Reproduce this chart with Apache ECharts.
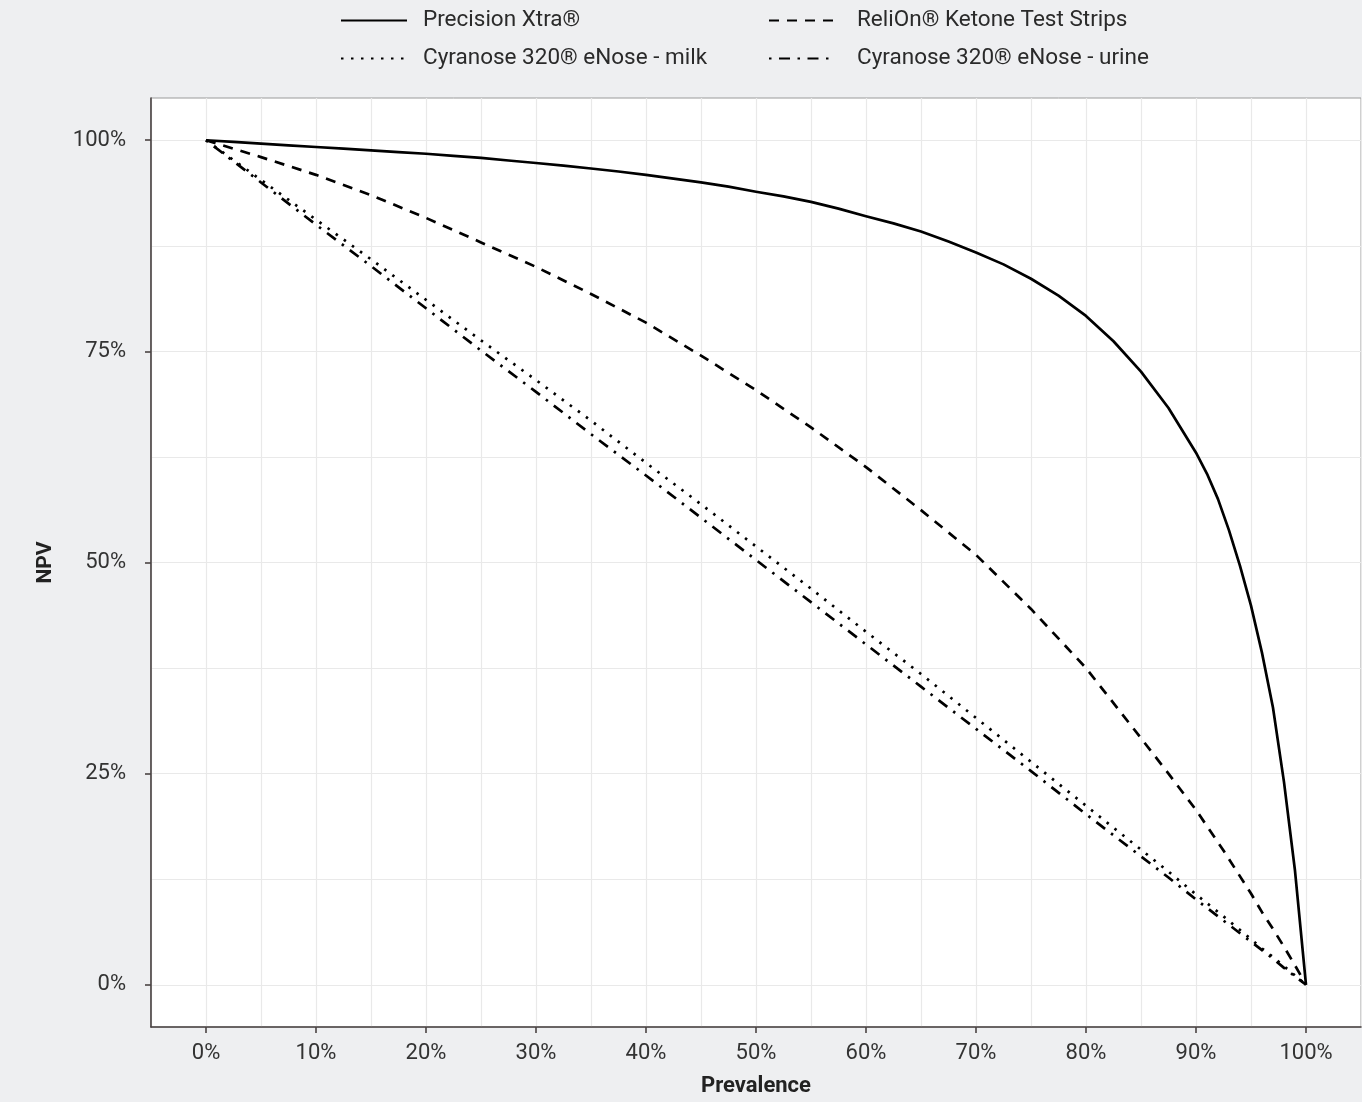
<!DOCTYPE html>
<html>
<head>
<meta charset="utf-8">
<script src="https://cdn.jsdelivr.net/npm/echarts@6/dist/echarts.min.js"></script>
<style>
html,body{margin:0;padding:0;background:#eeeff1;}
#chart{width:1362px;height:1102px;}
</style>
</head>
<body>
<div id="chart"></div>
<script>
// ---- data ----
const prevalenceFine = [0,2.5,5,7.5,10,12.5,15,17.5,20,22.5,25,27.5,30,32.5,35,37.5,40,42.5,45,47.5,50,52.5,55,57.5,60,62.5,65,67.5,70,72.5,75,77.5,80,82.5,85,87.5,90,91,92,93,94,95,96,97,98,99,100];
const precisionXtra = [100,99.8,99.6,99.4,99.2,99.0,98.8,98.6,98.4,98.15,97.9,97.6,97.3,97.0,96.65,96.3,95.9,95.45,95.0,94.5,93.9,93.35,92.7,91.9,91.0,90.15,89.2,88.0,86.7,85.3,83.6,81.6,79.2,76.2,72.6,68.3,63.0,60.5,57.5,53.8,49.6,44.9,39.3,32.8,24.0,13.5,0];
const prevalence = [0,5,10,15,20,25,30,35,40,45,50,55,60,65,70,75,80,85,87.5,90,92.5,95,96,97,98,99,100];
const relion = [100,98.0,95.9,93.5,90.8,87.9,85.0,81.8,78.4,74.5,70.4,66.0,61.3,56.2,50.9,44.5,37.5,29.2,25.0,20.7,15.9,10.8,8.6,6.6,4.5,2.3,0];
const cyranoseMilk = [100,95.3,90.6,85.9,81.1,76.3,71.6,66.8,61.8,56.9,51.9,46.9,41.8,36.8,31.6,26.4,21.2,16.0,13.4,10.7,8.1,5.4,4.3,3.3,2.2,1.1,0];
const cyranoseUrine = [100,95.0,90.0,85.1,80.1,75.1,70.2,65.2,60.3,55.3,50.3,45.3,40.3,35.3,30.3,25.3,20.2,15.2,12.7,10.1,7.6,5.1,4.1,3.1,2.0,1.0,0];
const seriesNames = ['Precision Xtra®','ReliOn® Ketone Test Strips','Cyranose 320® eNose - milk','Cyranose 320® eNose - urine'];
const xTicks = [0,10,20,30,40,50,60,70,80,90,100];
const yTicks = [0,25,50,75,100];

const FONT = 'Roboto';
const AXIS_COL = '#4a4343';
const GRID_COL = '#e9e9e9';
const T = 'rgba(0,0,0,0)';

function pairs(xs, ys){ return xs.map((x,i)=>[x, ys[i]]); }

const dashTypes = ['solid', [10,8], [2.5,7.5], [2.5,7.5,11,7.5]];
const xsList = [prevalenceFine, prevalence, prevalence, prevalence];
const values = [precisionXtra, relion, cyranoseMilk, cyranoseUrine];

const series = seriesNames.map((n,i)=>({
  name: n, type: 'line', xAxisIndex: 0, yAxisIndex: 0,
  data: pairs(xsList[i], values[i]), symbol: 'none', smooth: false,
  color: '#000',
  lineStyle: {color:'#000', width: 2.7, type: dashTypes[i], cap: 'butt', join: 'round'},
  z: 5 - i
}));

const legendPos = [[340,9,11],[768,9,17],[340,47,11],[768,47,17]];
const legends = seriesNames.map((n,i)=>({
  data: [n], left: legendPos[i][0], top: legendPos[i][1],
  itemWidth: 66, itemHeight: 24, padding: 0,
  itemStyle: {color: T, opacity: 0, borderWidth: 0},
  textStyle: {fontFamily: FONT, fontSize: 22.5, color: '#2a2a2a', padding: [0,0,0,legendPos[i][2]]}
}));

const chart = echarts.init(document.getElementById('chart'), null, {renderer:'canvas'});
chart.setOption({
  backgroundColor: '#eeeff1',
  animation: false,
  legend: legends,
  grid: {left: 151, right: 1, top: 98, bottom: 75, show: true, backgroundColor: '#ffffff', borderColor: '#9a9a9a', borderWidth: 1},
  xAxis: [
    {type:'value', min:-5, max:105, interval:5, position:'bottom',
     axisLine:{show:false}, axisTick:{show:false}, axisLabel:{show:false},
     splitLine:{show:true, lineStyle:{color:GRID_COL, width:1.2}}},
    {type:'value', min:-5, max:105, position:'bottom',
     axisLine:{show:true, onZero:false, lineStyle:{color:AXIS_COL, width:1.6}},
     axisTick:{show:true, length:6, customValues:xTicks, lineStyle:{color:AXIS_COL, width:1.6}},
     axisLabel:{show:true, customValues:xTicks, formatter: v => v + '%', fontFamily:FONT, fontSize:22, color:'#333', margin:15},
     splitLine:{show:false},
     name:'Prevalence', nameLocation:'middle', nameGap:48,
     nameTextStyle:{fontFamily:FONT, fontSize:22, fontWeight:'bold', color:'#222'}}
  ],
  yAxis: [
    {type:'value', min:-5, max:105, interval:2.5, position:'left',
     axisLine:{show:false}, axisTick:{show:false}, axisLabel:{show:false},
     splitLine:{show:true, lineStyle:{color:[T,T,GRID_COL,T,T], width:1.2}}},
    {type:'value', min:-5, max:105, position:'left',
     axisLine:{show:true, onZero:false, lineStyle:{color:AXIS_COL, width:1.6}},
     axisTick:{show:true, length:6, customValues:yTicks, lineStyle:{color:AXIS_COL, width:1.6}},
     axisLabel:{show:true, customValues:yTicks, formatter: v => v + '%', fontFamily:FONT, fontSize:22, color:'#333', margin:25},
     splitLine:{show:false},
     name:'NPV', nameLocation:'middle', nameGap:95, nameRotate:90,
     nameTextStyle:{fontFamily:FONT, fontSize:21, fontWeight:'bold', color:'#222'}}
  ],
  series: series
});
</script>
</body>
</html>
